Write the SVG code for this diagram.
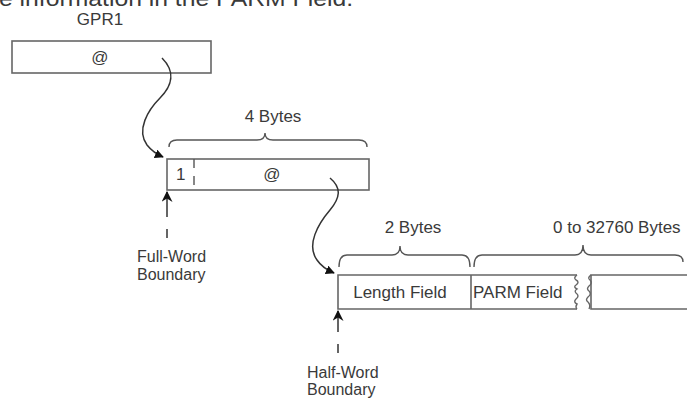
<svg xmlns="http://www.w3.org/2000/svg" width="687" height="398" viewBox="0 0 687 398">
<defs>
<style>
text{font-family:"Liberation Sans",Arial,sans-serif;font-size:17px;fill:#3a3a3a}
.lbl{font-size:16px}
.box{fill:#fff;stroke:#666;stroke-width:1.6}
.ln{fill:none;stroke:#555;stroke-width:1.4}
.con{fill:none;stroke:#333;stroke-width:1.5}
.c{text-anchor:middle}
</style>
<marker id="ah" viewBox="0 0 10 10" refX="9" refY="5" markerWidth="9" markerHeight="9" markerUnits="userSpaceOnUse" orient="auto">
<path d="M0,0 L10,5 L0,10 z" fill="#111"/>
</marker>
<marker id="ahu" viewBox="0 0 10 10" refX="9" refY="5" markerWidth="11" markerHeight="11" markerUnits="userSpaceOnUse" orient="auto">
<path d="M0,0 L10,5 L0,10 L3,5 z" fill="#111"/>
</marker>
</defs>
<rect width="687" height="398" fill="#fff"/>
<text x="-1" y="6" textLength="354" lengthAdjust="spacingAndGlyphs" style="font-size:22px">e information in the PARM Field.</text>

<g id="gpr1">
<text class="c" x="100" y="25">GPR1</text>
<rect class="box" x="12" y="41" width="199" height="32"/>
<text class="c" x="100" y="63">@</text>
</g>

<g id="fullword-box">
<path class="ln" d="M169,147 Q169,140 177,140 L257,140 Q265,140 265,133 Q265,140 273,140 L359,140 Q367,140 367,147"/>
<text class="c" x="273" y="122">4 Bytes</text>
<rect class="box" x="167" y="159" width="202" height="31"/>
<line class="ln" x1="194" y1="159" x2="194" y2="190" stroke-dasharray="9,8"/>
<text x="176" y="180">1</text>
<text class="c" x="272" y="180">@</text>
</g>

<g id="fullword-label">
<text class="lbl" x="137" y="262">Full-Word</text>
<text class="lbl" x="137" y="280">Boundary</text>
</g>

<g id="parm-area">
<path class="ln" d="M339,267 Q339,255 347,255 L392,255 Q400,255 400,246 Q400,255 408,255 L462,255 Q470,255 470,267"/>
<text class="c" x="413" y="233">2 Bytes</text>
<path class="ln" d="M474,267 Q474,255 482,255 L575,255 Q583,255 583,245 Q583,255 591,255 L675,255 Q683,255 683,262"/>
<text x="553" y="233">0 to 32760 Bytes</text>
<path class="box" d="M577,275 L338,275 L338,309 L577,309"/>
<line class="ln" x1="471" y1="275" x2="471" y2="309" style="stroke:#666;stroke-width:1.6"/>
<path class="ln" d="M577,275 q-4,3 -1,5 q4,2 0,5 q-3,2 1,4 q-3,2 -1,4 q4,3 0,6 q-3,3 1,5 q-2,3 0,5" style="stroke:#666"/>
<path class="box" d="M690,275 L591,275 L591,309 L690,309"/>
<path class="ln" d="M591,275 q-4,3 -1,5 q3,3 -1,6 q-3,3 0,5 q3,3 -1,6 q-3,3 0,5 q3,3 1,7" style="stroke:#666"/>
<text class="c" x="400" y="298">Length Field</text>
<text x="473" y="298">PARM Field</text>
</g>

<g id="halfword-label">
<text class="lbl" x="307" y="378">Half-Word</text>
<text class="lbl" x="307" y="395">Boundary</text>
</g>

<g id="connectors">
<path class="con" d="M162,58 C176,72 172,86 160,98 C148,110 136,130 147,145 C151,150 156,154 163,157" marker-end="url(#ah)"/>
<path class="con" d="M330,178 C342,188 340,198 330,210 C318,224 306,245 317,260 C321,266 327,270 334,273" marker-end="url(#ah)"/>
<path class="con" d="M167,238 L167,192" stroke-dasharray="9,12,30" marker-end="url(#ahu)"/>
<path class="con" d="M338,353 L338,311" stroke-dasharray="9,12,30" marker-end="url(#ahu)"/>
</g>
</svg>
